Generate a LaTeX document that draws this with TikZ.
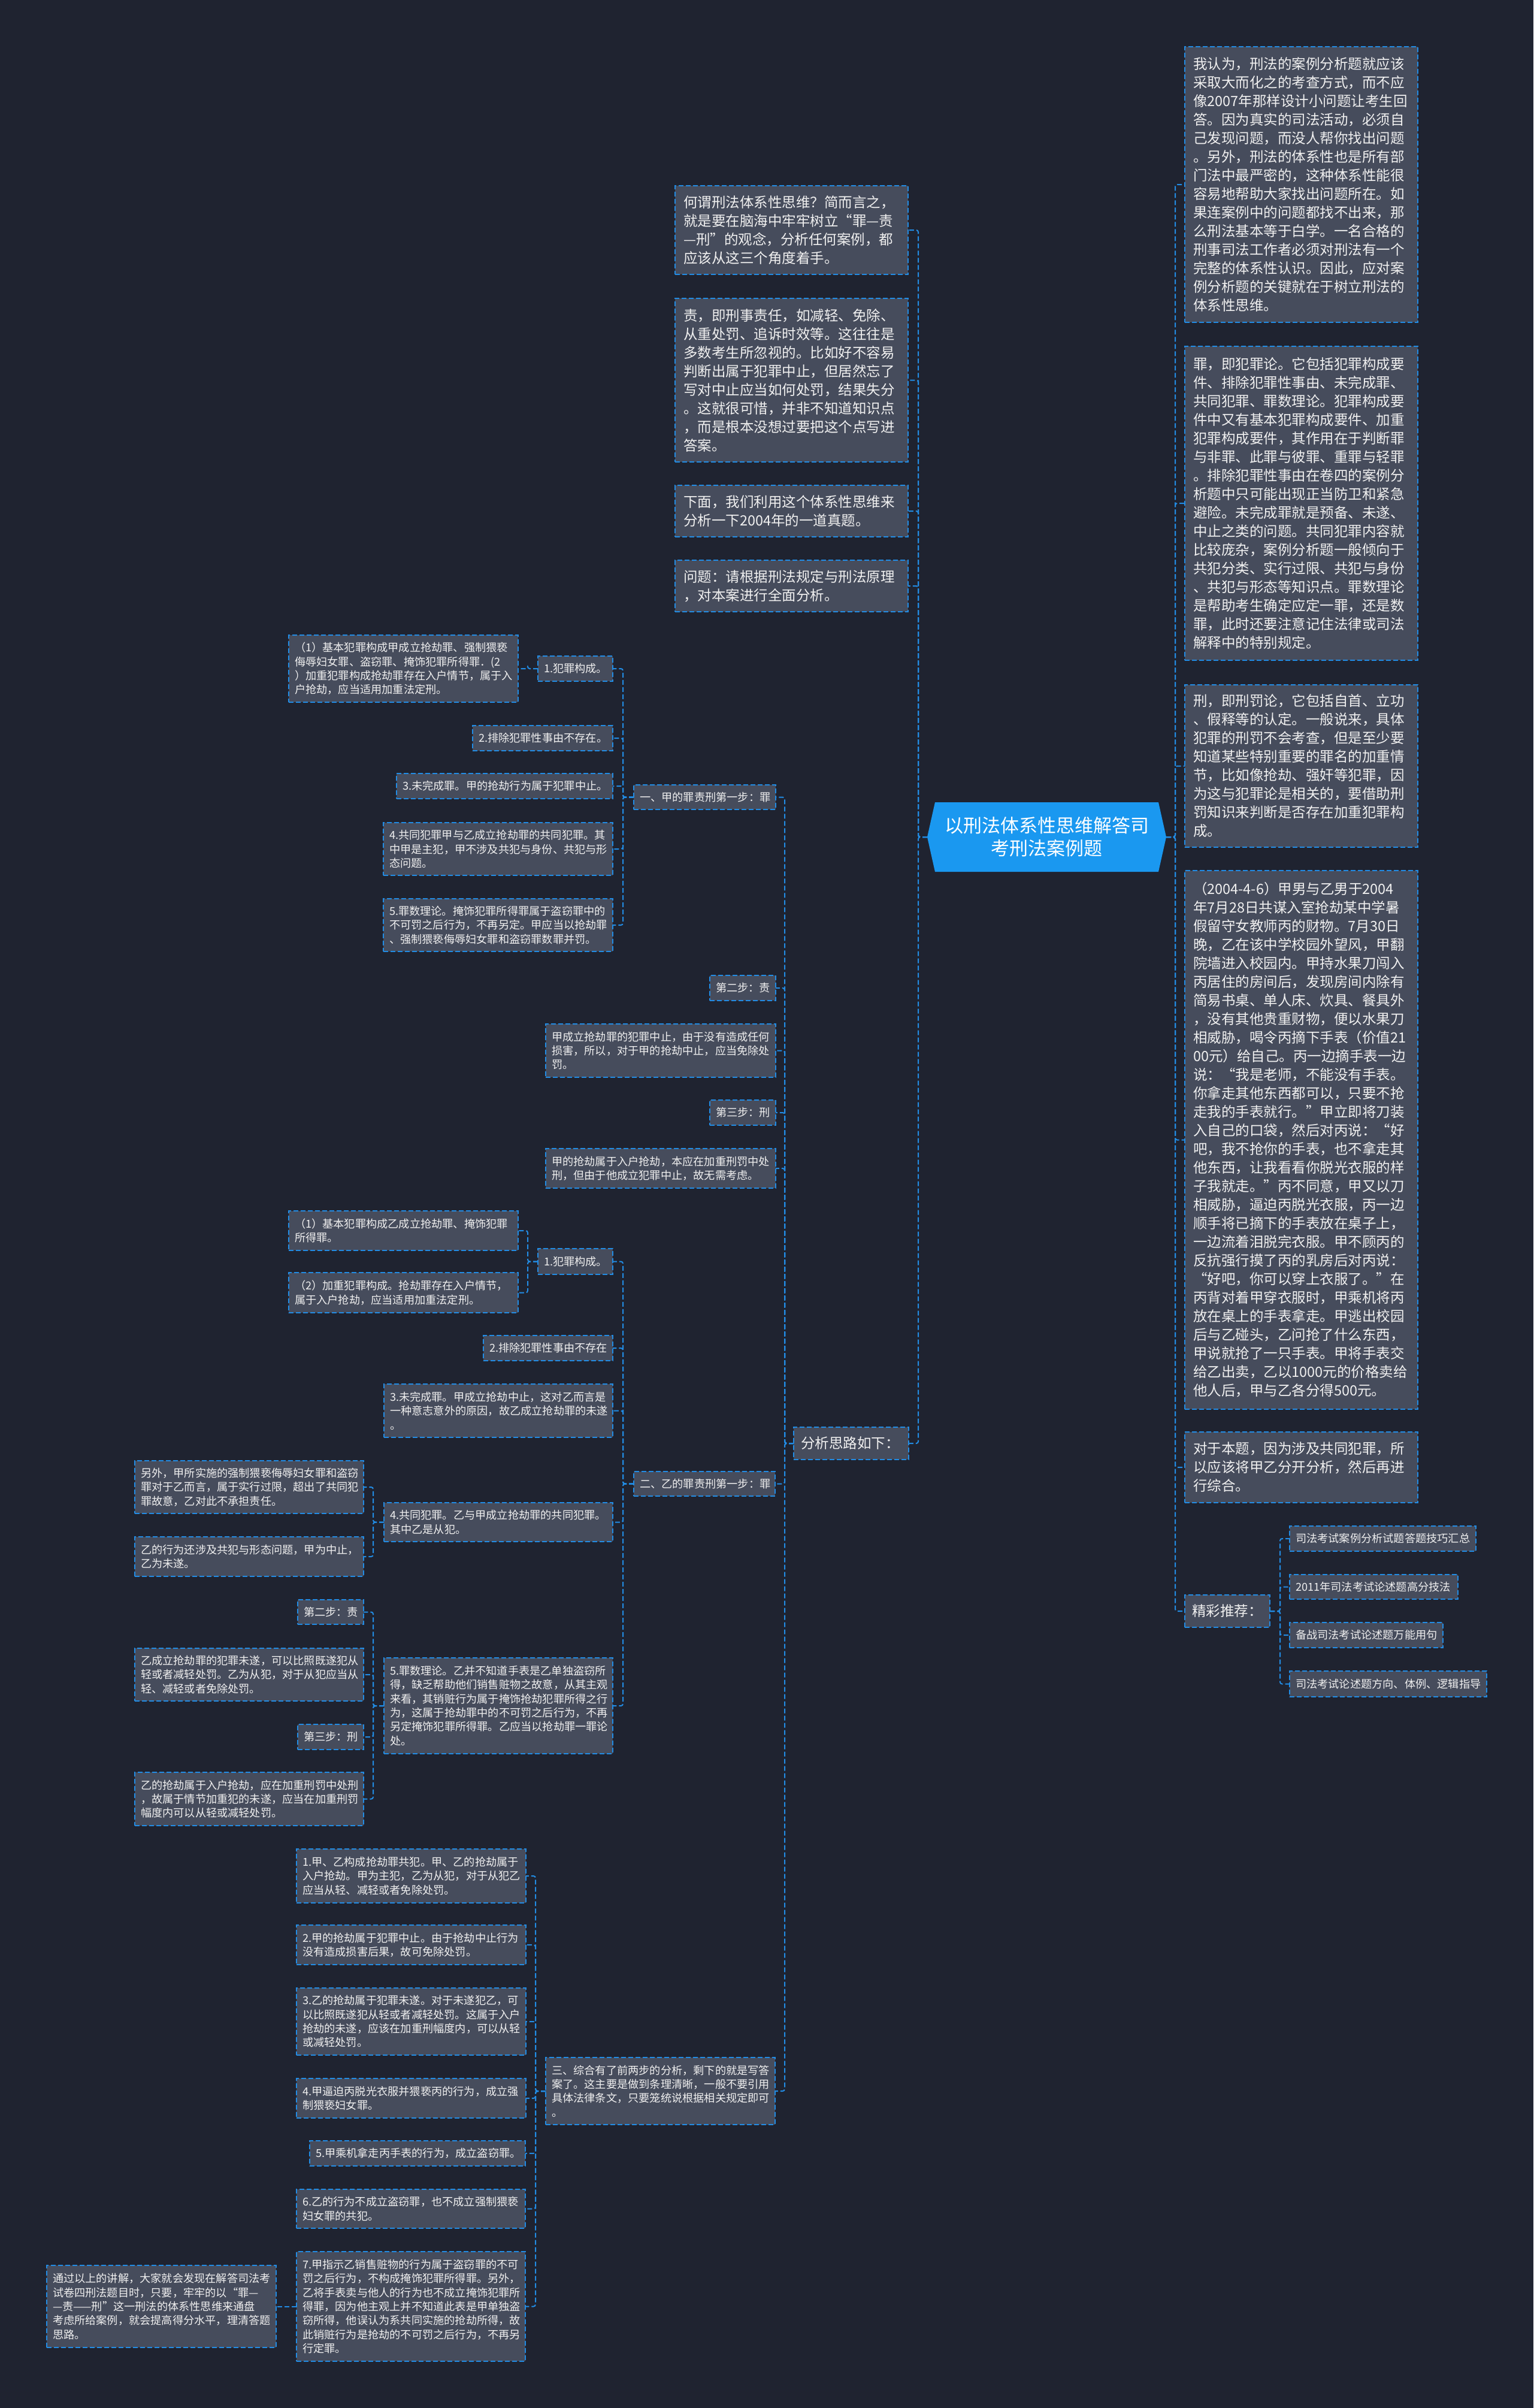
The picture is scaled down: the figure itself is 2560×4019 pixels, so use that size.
\documentclass[tikz,border=0pt]{standalone}
\usepackage{fontspec}
\setmainfont{Noto Sans CJK SC}
\definecolor{bgc}{RGB}{31,35,48}
\definecolor{boxfill}{RGB}{70,76,92}
\definecolor{lineblue}{RGB}{34,140,228}
\definecolor{rootblue}{RGB}{26,152,240}
\definecolor{txt}{RGB}{240,240,240}
\newcommand\bnode[8]{%
  \pgfmathsetmacro\bnw{(#6-#4)*0.3}%
  \pgfmathsetmacro\bnh{(#7-#5)*0.3}%
  \pgfmathsetmacro\bntw{(#6-#4)*0.3-2*#2}%
  \node[#1, inner xsep=#2pt, text width=\bntw pt, minimum width=\bnw pt, minimum height=\bnh pt] (#3) at ({(#4+#6)/2},{(#5+#7)/2}) {#8};}
\begin{document}
\begin{tikzpicture}[x=0.3pt,y=-0.3pt,
  conn/.style={draw=lineblue, line width=0.6pt, dash pattern=on 2.4pt off 1.2pt, rounded corners=1pt},
  boxbase/.style={draw=lineblue, fill=boxfill, line width=0.6pt, dash pattern=on 2.4pt off 1.2pt, text=txt, align=left, inner ysep=0pt, outer sep=0pt},
  bigtext/.style={boxbase, font=\fontsize{7.05pt}{9.3pt}\selectfont},
  smalltext/.style={boxbase, font=\fontsize{5.46pt}{7pt}\selectfont},
  roottext/.style={text=white, align=center, font=\fontsize{9.3pt}{11.4pt}\selectfont, inner sep=0pt, outer sep=0pt}
]
\fill[bgc] (0,0) rectangle (2560,4019);
\useasboundingbox (0,0) rectangle (2560,4019);

% root
\fill[rootblue] (1548,1397) -- (1561,1339) -- (1934,1339) -- (1947,1397) -- (1934,1455) -- (1561,1455) -- cycle;
\node[roottext, minimum width=119.7pt, minimum height=34.8pt] (root) at (1747.5,1397) {以刑法体系性思维解答司\\考刑法案例题};

% right column
\bnode{bigtext}{4.2}{r1}{1978}{78}{2367}{538}{我认为，刑法的案例分析题就应该\\采取大而化之的考查方式，而不应\\像2007年那样设计小问题让考生回\\答。因为真实的司法活动，必须自\\己发现问题，而没人帮你找出问题\\。另外，刑法的体系性也是所有部\\门法中最严密的，这种体系性能很\\容易地帮助大家找出问题所在。如\\果连案例中的问题都找不出来，那\\么刑法基本等于白学。一名合格的\\刑事司法工作者必须对刑法有一个\\完整的体系性认识。因此，应对案\\例分析题的关键就在于树立刑法的\\体系性思维。}
\bnode{bigtext}{4.2}{r2}{1978}{578}{2367}{1102}{罪，即犯罪论。它包括犯罪构成要\\件、排除犯罪性事由、未完成罪、\\共同犯罪、罪数理论。犯罪构成要\\件中又有基本犯罪构成要件、加重\\犯罪构成要件，其作用在于判断罪\\与非罪、此罪与彼罪、重罪与轻罪\\。排除犯罪性事由在卷四的案例分\\析题中只可能出现正当防卫和紧急\\避险。未完成罪就是预备、未遂、\\中止之类的问题。共同犯罪内容就\\比较庞杂，案例分析题一般倾向于\\共犯分类、实行过限、共犯与身份\\、共犯与形态等知识点。罪数理论\\是帮助考生确定应定一罪，还是数\\罪，此时还要注意记住法律或司法\\解释中的特别规定。}
\bnode{bigtext}{4.2}{r3}{1978}{1143}{2367}{1414}{刑，即刑罚论，它包括自首、立功\\、假释等的认定。一般说来，具体\\犯罪的刑罚不会考查，但是至少要\\知道某些特别重要的罪名的加重情\\节，比如像抢劫、强奸等犯罪，因\\为这与犯罪论是相关的，要借助刑\\罚知识来判断是否存在加重犯罪构\\成。}
\bnode{bigtext}{4.2}{r4}{1978}{1453}{2367}{2352}{（2004-4-6）甲男与乙男于2004\\年7月28日共谋入室抢劫某中学暑\\假留守女教师丙的财物。7月30日\\晚，乙在该中学校园外望风，甲翻\\院墙进入校园内。甲持水果刀闯入\\丙居住的房间后，发现房间内除有\\简易书桌、单人床、炊具、餐具外\\，没有其他贵重财物，便以水果刀\\相威胁，喝令丙摘下手表（价值21\\00元）给自己。丙一边摘手表一边\\说：“我是老师，不能没有手表。\\你拿走其他东西都可以，只要不抢\\走我的手表就行。”甲立即将刀装\\入自己的口袋，然后对丙说：“好\\吧，我不抢你的手表，也不拿走其\\他东西，让我看看你脱光衣服的样\\子我就走。”丙不同意，甲又以刀\\相威胁，逼迫丙脱光衣服，丙一边\\顺手将已摘下的手表放在桌子上，\\一边流着泪脱完衣服。甲不顾丙的\\反抗强行摸了丙的乳房后对丙说：\\“好吧，你可以穿上衣服了。”在\\丙背对着甲穿衣服时，甲乘机将丙\\放在桌上的手表拿走。甲逃出校园\\后与乙碰头，乙问抢了什么东西，\\甲说就抢了一只手表。甲将手表交\\给乙出卖，乙以1000元的价格卖给\\他人后，甲与乙各分得500元。}
\bnode{bigtext}{4.2}{r5}{1978}{2390}{2367}{2508}{对于本题，因为涉及共同犯罪，所\\以应该将甲乙分开分析，然后再进\\行综合。}
\bnode{bigtext}{3.6}{rec}{1978}{2662}{2120}{2716}{精彩推荐：}
\bnode{smalltext}{3}{i1}{2153}{2547}{2464}{2589}{司法考试案例分析试题答题技巧汇总}
\bnode{smalltext}{3}{i2}{2153}{2628}{2434}{2669}{2011年司法考试论述题高分技法}
\bnode{smalltext}{3}{i3}{2153}{2708}{2409}{2750}{备战司法考试论述题万能用句}
\bnode{smalltext}{3}{i4}{2153}{2789}{2482}{2832}{司法考试论述题方向、体例、逻辑指导}

% middle column
\bnode{bigtext}{4.2}{l1}{1127}{310}{1516}{458}{何谓刑法体系性思维？简而言之，\\就是要在脑海中牢牢树立“罪—责\\—刑”的观念，分析任何案例，都\\应该从这三个角度着手。}
\bnode{bigtext}{4.2}{l2}{1127}{498}{1516}{771}{责，即刑事责任，如减轻、免除、\\从重处罚、追诉时效等。这往往是\\多数考生所忽视的。比如好不容易\\判断出属于犯罪中止，但居然忘了\\写对中止应当如何处罚，结果失分\\。这就很可惜，并非不知道知识点\\，而是根本没想过要把这个点写进\\答案。}
\bnode{bigtext}{4.2}{l3}{1127}{810}{1516}{896}{下面，我们利用这个体系性思维来\\分析一下2004年的一道真题。}
\bnode{bigtext}{4.2}{l4}{1127}{935}{1516}{1021}{问题：请根据刑法规定与刑法原理\\，对本案进行全面分析。}
\bnode{bigtext}{3.6}{an}{1325}{2382}{1517}{2436}{分析思路如下：}

% part one: jia
\bnode{smalltext}{3}{j1}{1058}{1310}{1295}{1351}{一、甲的罪责刑第一步：罪}
\bnode{smalltext}{3}{j1a}{898}{1095}{1023}{1137}{1.犯罪构成。}
\bnode{smalltext}{3}{j1a1}{482}{1060}{865}{1172}{（1）基本犯罪构成甲成立抢劫罪、强制猥亵\\侮辱妇女罪、盗窃罪、掩饰犯罪所得罪．(2\\）加重犯罪构成抢劫罪存在入户情节，属于入\\户抢劫，应当适用加重法定刑。}
\bnode{smalltext}{3}{j1b}{789}{1211}{1023}{1253}{2.排除犯罪性事由不存在。}
\bnode{smalltext}{3}{j1c}{662}{1291}{1023}{1333}{3.未完成罪。甲的抢劫行为属于犯罪中止。}
\bnode{smalltext}{3}{j1d}{640}{1373}{1023}{1461}{4.共同犯罪甲与乙成立抢劫罪的共同犯罪。其\\中甲是主犯，甲不涉及共犯与身份、共犯与形\\态问题。}
\bnode{smalltext}{3}{j1e}{640}{1500}{1023}{1588}{5.罪数理论。掩饰犯罪所得罪属于盗窃罪中的\\不可罚之后行为，不再另定。甲应当以抢劫罪\\、强制猥亵侮辱妇女罪和盗窃罪数罪并罚。}
\bnode{smalltext}{3}{j2}{1185}{1628}{1295}{1670}{第二步：责}
\bnode{smalltext}{3}{j2t}{911}{1709}{1295}{1798}{甲成立抢劫罪的犯罪中止，由于没有造成任何\\损害，所以，对于甲的抢劫中止，应当免除处\\罚。}
\bnode{smalltext}{3}{j3}{1185}{1836}{1295}{1878}{第三步：刑}
\bnode{smalltext}{3}{j3t}{911}{1917}{1295}{1983}{甲的抢劫属于入户抢劫，本应在加重刑罚中处\\刑，但由于他成立犯罪中止，故无需考虑。}

% part two: yi
\bnode{smalltext}{3}{y1}{1058}{2456}{1294}{2497}{二、乙的罪责刑第一步：罪}
\bnode{smalltext}{3}{y1a}{898}{2084}{1023}{2127}{1.犯罪构成。}
\bnode{smalltext}{3}{y1a1}{482}{2021}{865}{2087}{（1）基本犯罪构成乙成立抢劫罪、掩饰犯罪\\所得罪。}
\bnode{smalltext}{3}{y1a2}{482}{2124}{865}{2191}{（2）加重犯罪构成。抢劫罪存在入户情节，\\属于入户抢劫，应当适用加重法定刑。}
\bnode{smalltext}{3}{y1b}{807}{2229}{1023}{2271}{2.排除犯罪性事由不存在}
\bnode{smalltext}{3}{y1c}{641}{2310}{1023}{2399}{3.未完成罪。甲成立抢劫中止，这对乙而言是\\一种意志意外的原因，故乙成立抢劫罪的未遂\\。}
\bnode{smalltext}{3}{y1d}{641}{2508}{1023}{2573}{4.共同犯罪。乙与甲成立抢劫罪的共同犯罪。\\其中乙是从犯。}
\bnode{smalltext}{3}{y1d1}{225}{2438}{607}{2526}{另外，甲所实施的强制猥亵侮辱妇女罪和盗窃\\罪对于乙而言，属于实行过限，超出了共同犯\\罪故意，乙对此不承担责任。}
\bnode{smalltext}{3}{y1d2}{225}{2565}{607}{2631}{乙的行为还涉及共犯与形态问题，甲为中止，\\乙为未遂。}
\bnode{smalltext}{3}{y1e}{641}{2767}{1023}{2927}{5.罪数理论。乙并不知道手表是乙单独盗窃所\\得，缺乏帮助他们销售赃物之故意，从其主观\\来看，其销赃行为属于掩饰抢劫犯罪所得之行\\为，这属于抢劫罪中的不可罚之后行为，不再\\另定掩饰犯罪所得罪。乙应当以抢劫罪一罪论\\处。}
\bnode{smalltext}{3}{y1e1}{497}{2670}{607}{2711}{第二步：责}
\bnode{smalltext}{3}{y1e2}{225}{2751}{607}{2839}{乙成立抢劫罪的犯罪未遂，可以比照既遂犯从\\轻或者减轻处罚。乙为从犯，对于从犯应当从\\轻、减轻或者免除处罚。}
\bnode{smalltext}{3}{y1e3}{497}{2878}{607}{2920}{第三步：刑}
\bnode{smalltext}{3}{y1e4}{225}{2958}{607}{3047}{乙的抢劫属于入户抢劫，应在加重刑罚中处刑\\，故属于情节加重犯的未遂，应当在加重刑罚\\幅度内可以从轻或减轻处罚。}

% part three
\bnode{smalltext}{3}{s3}{911}{3434}{1294}{3546}{三、综合有了前两步的分析，剩下的就是写答\\案了。这主要是做到条理清晰，一般不要引用\\具体法律条文，只要笼统说根据相关规定即可\\。}
\bnode{smalltext}{3}{s1}{495}{3086}{878}{3176}{1.甲、乙构成抢劫罪共犯。甲、乙的抢劫属于\\入户抢劫。甲为主犯，乙为从犯，对于从犯乙\\应当从轻、减轻或者免除处罚。}
\bnode{smalltext}{3}{s2}{495}{3213}{878}{3279}{2.甲的抢劫属于犯罪中止。由于抢劫中止行为\\没有造成损害后果，故可免除处罚。}
\bnode{smalltext}{3}{s3x}{495}{3318}{878}{3430}{3.乙的抢劫属于犯罪未遂。对于未遂犯乙，可\\以比照既遂犯从轻或者减轻处罚。这属于入户\\抢劫的未遂，应该在加重刑幅度内，可以从轻\\或减轻处罚。}
\bnode{smalltext}{3}{s4}{495}{3469}{878}{3535}{4.甲逼迫丙脱光衣服并猥亵丙的行为，成立强\\制猥亵妇女罪。}
\bnode{smalltext}{3}{s5}{517}{3573}{877}{3615}{5.甲乘机拿走丙手表的行为，成立盗窃罪。}
\bnode{smalltext}{3}{s6}{495}{3654}{877}{3719}{6.乙的行为不成立盗窃罪，也不成立强制猥亵\\妇女罪的共犯。}
\bnode{smalltext}{3}{s7}{495}{3758}{877}{3941}{7.甲指示乙销售赃物的行为属于盗窃罪的不可\\罚之后行为，不构成掩饰犯罪所得罪。另外，\\乙将手表卖与他人的行为也不成立掩饰犯罪所\\得罪，因为他主观上并不知道此表是甲单独盗\\窃所得，他误认为系共同实施的抢劫所得，故\\此销赃行为是抢劫的不可罚之后行为，不再另\\行定罪。}
\bnode{smalltext}{3}{endn}{78}{3781}{461}{3918}{通过以上的讲解，大家就会发现在解答司法考\\试卷四刑法题目时，只要，牢牢的以“罪—\\—责——刑”这一刑法的体系性思维来通盘\\考虑所给案例，就会提高得分水平，理清答题\\思路。}

% connectors
\foreach \c in {r1,r2,r3,r4,r5,rec} \draw[conn] (root.east) -- ++(15,0) |- (\c.west);
\foreach \c in {i1,i2,i3,i4} \draw[conn] (rec.east) -- ++(17,0) |- (\c.west);
\foreach \c in {l1,l2,l3,l4,an} \draw[conn] (root.west) -- ++(-15,0) |- (\c.east);
\foreach \c in {j1,j2,j2t,j3,j3t,y1,s3} \draw[conn] (an.west) -- ++(-15,0) |- (\c.east);
\foreach \c in {j1a,j1b,j1c,j1d,j1e} \draw[conn] (j1.west) -- ++(-18,0) |- (\c.east);
\draw[conn] (j1a.west) -- ++(-17,0) |- (j1a1.east);
\foreach \c in {y1a,y1b,y1c,y1d,y1e} \draw[conn] (y1.west) -- ++(-18,0) |- (\c.east);
\foreach \c in {y1a1,y1a2} \draw[conn] (y1a.west) -- ++(-17,0) |- (\c.east);
\foreach \c in {y1d1,y1d2} \draw[conn] (y1d.west) -- ++(-18,0) |- (\c.east);
\foreach \c in {y1e1,y1e2,y1e3,y1e4} \draw[conn] (y1e.west) -- ++(-18,0) |- (\c.east);
\foreach \c in {s1,s2,s3x,s4,s5,s6,s7} \draw[conn] (s3.west) -- ++(-17,0) |- (\c.east);
\draw[conn] (s7.west) -- (endn.east);
\end{tikzpicture}
\end{document}
